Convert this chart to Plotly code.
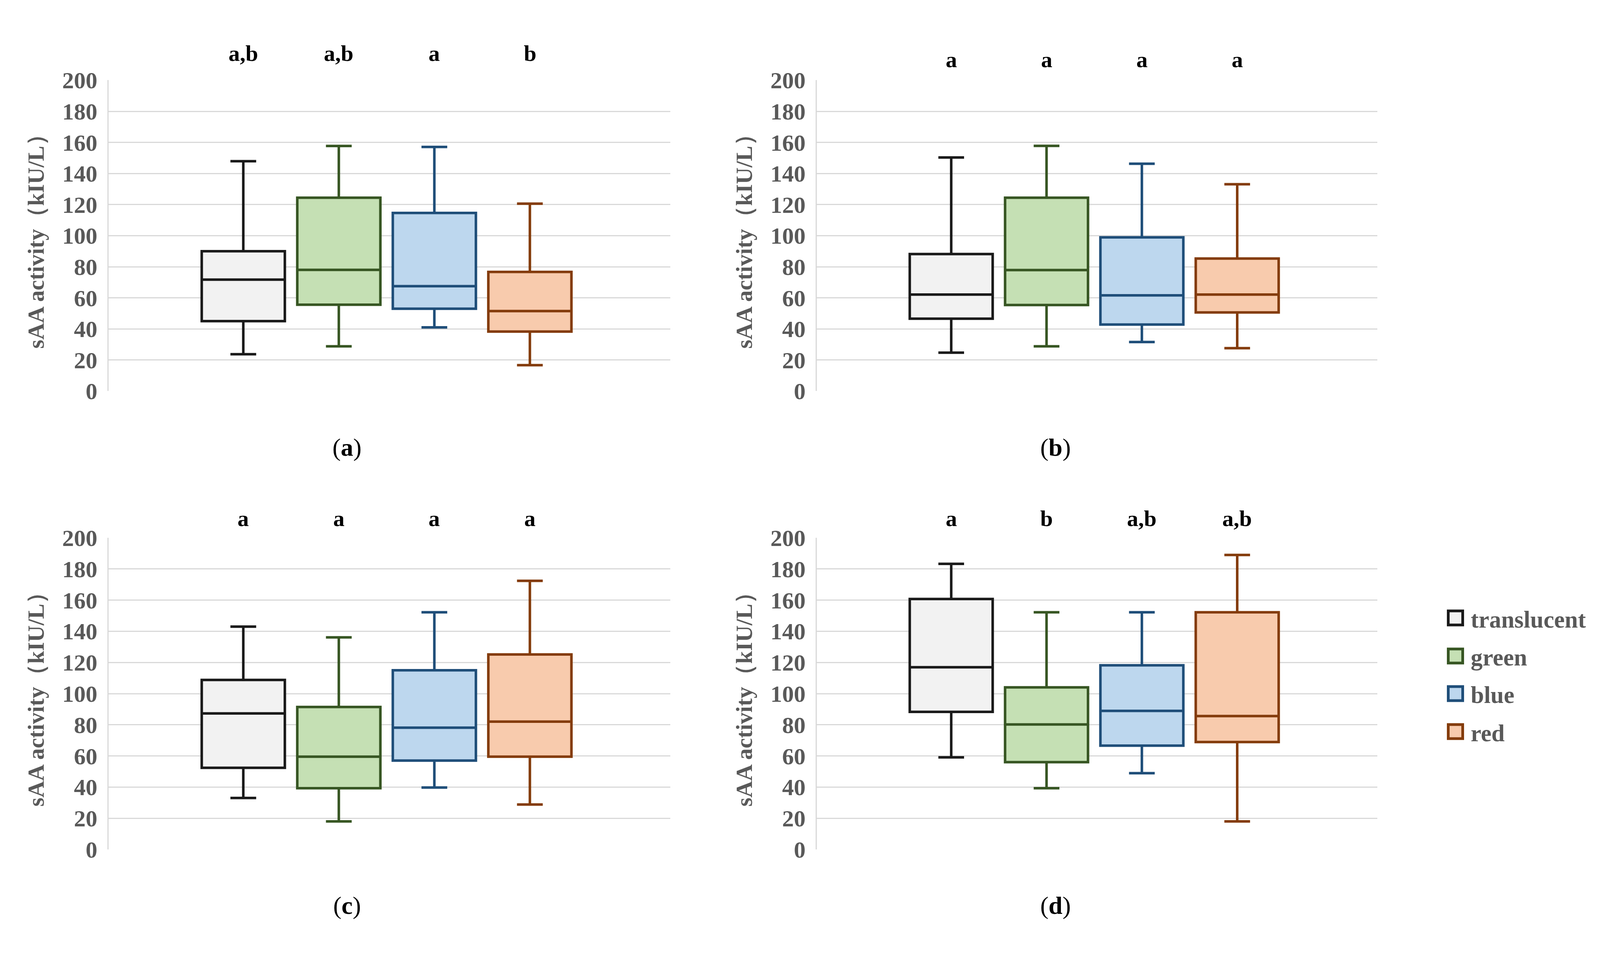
import plotly.graph_objects as go

W, H = 4203, 2453

categories = ["translucent", "green", "blue", "red"]
line_colors = ["#1a1a1a", "#375623", "#1f4e79", "#843c0c"]
fill_colors = ["#f2f2f2", "#c5e0b4", "#bdd7ee", "#f8cbad"]

panel_names = ["a", "b", "c", "d"]

a_lower = [23.7, 28.8, 41.0, 16.7]
a_q1 = [45.0, 55.6, 53.0, 38.3]
a_median = [71.7, 78.0, 67.5, 51.5]
a_q3 = [90.0, 124.4, 114.6, 76.7]
a_upper = [147.9, 157.7, 157.1, 120.6]
a_letters = ["a,b", "a,b", "a", "b"]

b_lower = [24.7, 28.8, 31.6, 27.6]
b_q1 = [46.6, 55.4, 42.8, 50.6]
b_median = [62.1, 77.9, 61.6, 62.1]
b_q3 = [88.2, 124.4, 98.9, 85.3]
b_upper = [150.3, 157.8, 146.3, 133.1]
b_letters = ["a", "a", "a", "a"]

c_lower = [33.0, 18.0, 39.7, 28.8]
c_q1 = [52.4, 39.3, 57.0, 59.5]
c_median = [87.3, 59.5, 78.1, 82.0]
c_q3 = [108.8, 91.4, 115.0, 125.1]
c_upper = [143.0, 136.1, 152.2, 172.4]
c_letters = ["a", "a", "a", "a"]

d_lower = [59.1, 39.3, 48.9, 18.0]
d_q1 = [88.3, 56.0, 66.6, 68.9]
d_median = [116.9, 80.2, 88.9, 85.6]
d_q3 = [160.7, 104.0, 118.2, 152.2]
d_upper = [183.3, 152.2, 152.2, 189.0]
d_letters = ["a", "b", "a,b", "a,b"]

y_ticks = [0, 20, 40, 60, 80, 100, 120, 140, 160, 180, 200]
y_title = "sAA activity（kIU/L）"

panels = [
    (a_lower, a_q1, a_median, a_q3, a_upper, a_letters),
    (b_lower, b_q1, b_median, b_q3, b_upper, b_letters),
    (c_lower, c_q1, c_median, c_q3, c_upper, c_letters),
    (d_lower, d_q1, d_median, d_q3, d_upper, d_letters),
]

# layout geometry (pixels from top-left)
x_doms_px = [(270, 1708), (2083, 3518), (270, 1708), (2083, 3518)]
y_doms_px = [(170, 988), (170, 988), (1374, 2194), (1374, 2194)]
letter_px_above = [71, 54, 51, 51]
label_pos_px = [(880, 1136), (2694, 1136), (880, 2341), (2694, 2341)]

FONT = "Liberation Serif"
GRAY = "#595959"

fig = go.Figure()

for p, (lo, q1, med, q3, up, letters) in enumerate(panels):
    ax = "" if p == 0 else str(p + 1)
    y0, y1 = y_doms_px[p]
    for k, cat in enumerate(categories):
        fig.add_trace(go.Box(
            x=[k], q1=[q1[k]], median=[med[k]], q3=[q3[k]],
            lowerfence=[lo[k]], upperfence=[up[k]],
            width=0.87, whiskerwidth=0.31,
            fillcolor=fill_colors[k],
            line=dict(color=line_colors[k], width=6.5),
            boxpoints=False, name=cat, showlegend=False,
            xaxis="x" + ax, yaxis="y" + ax, hoverinfo="skip",
        ))
        fig.add_annotation(
            x=k, y=1 + letter_px_above[p] / (y1 - y0),
            xref="x" + ax, yref="y" + ax + " domain",
            text=letters[k], showarrow=False,
            xanchor="center", yanchor="middle",
            font=dict(family=FONT, size=58, color="black", weight="bold"),
        )
    x0, x1 = x_doms_px[p]
    fig.layout["xaxis" + ax] = dict(
        domain=[x0 / W, x1 / W], range=[-1.41, 4.47],
        showticklabels=False, showgrid=False, zeroline=False,
        showline=False, anchor="y" + ax, fixedrange=True,
    )
    fig.layout["yaxis" + ax] = dict(
        domain=[1 - y1 / H, 1 - y0 / H], range=[0, 200],
        tickvals=y_ticks, ticks="", ticklabelstandoff=14,
        tickfont=dict(family=FONT, size=60, color=GRAY, weight="bold"),
        showgrid=True, gridcolor="#d9d9d9", gridwidth=2.5,
        zeroline=False, showline=True, linecolor="#d9d9d9", linewidth=2.5,
        anchor="x" + ax, fixedrange=True,
        title=dict(text=y_title, standoff=28,
                   font=dict(family=FONT, size=59, color=GRAY, weight="bold")),
    )
    lx, ly = label_pos_px[p]
    fig.add_annotation(
        x=lx / W, y=1 - ly / H, xref="paper", yref="paper",
        text="(<b>" + panel_names[p] + "</b>)", showarrow=False,
        xanchor="center", yanchor="middle",
        font=dict(family=FONT, size=64, color="black"),
    )

# legend: coloured squares with category names
leg_x0, leg_size = 3696, 44
leg_text_x = 3755
leg_rows = [1585, 1685, 1784, 1884]
for k, cat in enumerate(categories):
    cy = leg_rows[k]
    fig.add_shape(
        type="rect", xref="paper", yref="paper",
        x0=(leg_x0 + 3.5) / W, x1=(leg_x0 + leg_size - 3.5) / W,
        y0=1 - (cy + leg_size / 2 - 3.5) / H, y1=1 - (cy - leg_size / 2 + 3.5) / H,
        fillcolor=fill_colors[k], line=dict(color=line_colors[k], width=7),
    )
    fig.add_annotation(
        x=leg_text_x / W, y=1 - (cy + 4) / H, xref="paper", yref="paper",
        text=cat, showarrow=False, xanchor="left", yanchor="middle",
        font=dict(family=FONT, size=61, color=GRAY, weight="bold"),
    )

fig.update_layout(
    width=W, height=H, margin=dict(l=0, r=0, t=0, b=0),
    paper_bgcolor="white", plot_bgcolor="white",
    showlegend=False,
)

fig.write_html("out.html")
